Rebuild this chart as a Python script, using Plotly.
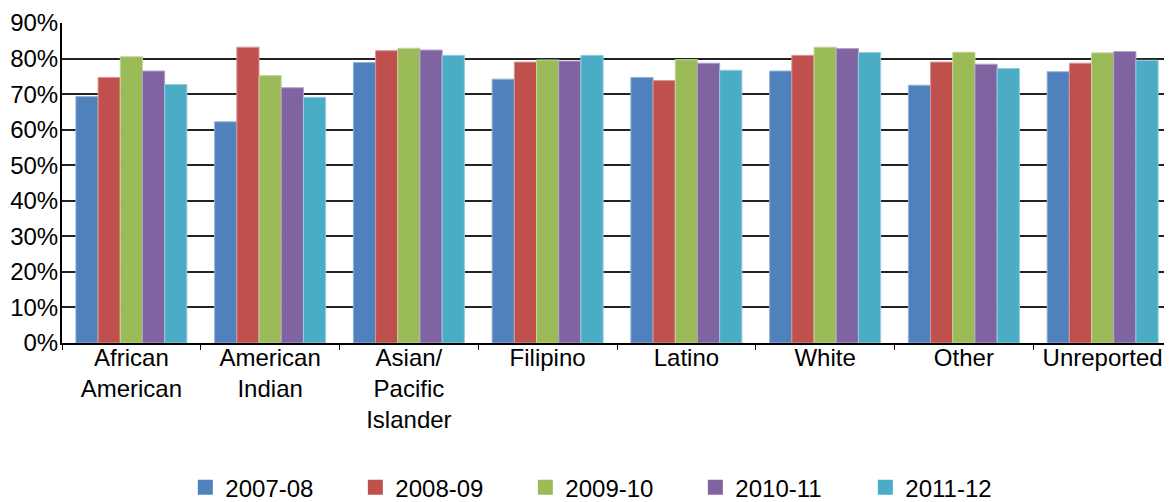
import plotly.graph_objects as go

categories = ["African<br>American", "American<br>Indian", "Asian/<br>Pacific<br>Islander",
              "Filipino", "Latino", "White", "Other", "Unreported"]
series_names = ["2007-08", "2008-09", "2009-10", "2010-11", "2011-12"]
v_2007_08 = [69.3, 62.2, 78.9, 74.2, 74.7, 76.5, 72.5, 76.3]
v_2008_09 = [74.7, 83.2, 82.2, 79.0, 73.8, 80.9, 79.0, 78.7]
v_2009_10 = [80.5, 75.2, 82.9, 79.6, 79.7, 83.2, 81.8, 81.6]
v_2010_11 = [76.5, 71.8, 82.4, 79.3, 78.7, 82.8, 78.4, 82.0]
v_2011_12 = [72.7, 69.1, 80.9, 80.9, 76.7, 81.7, 77.2, 79.5]
series_values = [v_2007_08, v_2008_09, v_2009_10, v_2010_11, v_2011_12]
y_ticks = [0, 10, 20, 30, 40, 50, 60, 70, 80, 90]

colors = ["#4F81BD", "#C0504D", "#9BBB59", "#8064A2", "#4BACC6"]
outline = ["#95B3D7", "#D99694", "#C3D69B", "#B3A2C7", "#93CDDD"]

fig = go.Figure()
for name, vals, c, oc in zip(series_names, series_values, colors, outline):
    fig.add_trace(go.Bar(x=categories, y=vals, name=name, showlegend=False,
                         legendgroup=name,
                         marker=dict(color=c, line=dict(color=oc, width=1))))
# legend entries with larger square swatches
for name, c in zip(series_names, colors):
    fig.add_trace(go.Scatter(x=[None], y=[None], mode="markers", name=name,
                             legendgroup=name,
                             marker=dict(symbol="square", size=15, color=c)))

font = dict(family="Liberation Sans, Arial, sans-serif", size=24, color="#000000")
# page body has an 8px default margin, so the figure is sized to fill the rest
fig.update_layout(
    width=1164, height=494,
    margin=dict(l=54, r=0, t=15, b=159, autoexpand=False),
    paper_bgcolor="white", plot_bgcolor="white",
    barmode="group", bargap=0.2, bargroupgap=0,
    font=font,
    showlegend=True,
    legend=dict(orientation="h", x=0.494, xanchor="center", y=-0.452, yanchor="middle",
                font=font, entrywidth=125, entrywidthmode="pixels",
                traceorder="normal"),
    xaxis=dict(showline=True, linecolor="#000000", linewidth=2, automargin=False,
               ticks="outside", tickson="boundaries", ticklen=5, tickcolor="#000000",
               tickfont=font, showgrid=False, ticklabelstandoff=-8),
    yaxis=dict(range=[0, 90], tickvals=y_ticks, ticktext=[f"{t}%" for t in y_ticks],
               showline=True, linecolor="#000000", linewidth=2, automargin=False,
               showgrid=True, gridcolor="#222222", gridwidth=1.5,
               ticks="", tickfont=font, zeroline=False, ticklabelstandoff=-3),
)

fig.write_html("out.html")
